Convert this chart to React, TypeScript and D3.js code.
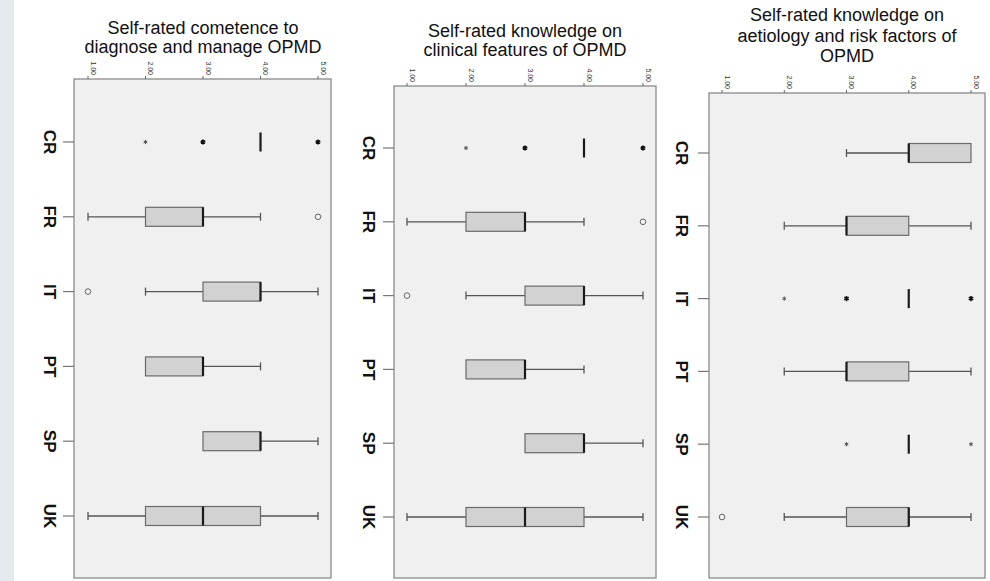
import React from 'react';
import * as d3 from 'd3';

// categories and axis ticks
const categories = ['CR', 'FR', 'IT', 'PT', 'SP', 'UK'];
const tickValues = [1, 2, 3, 4, 5];

const titleCompetence = ['Self-rated cometence to', 'diagnose and manage OPMD'];
const titleClinical = ['Self-rated knowledge on', 'clinical features of OPMD'];
const titleAetiology = ['Self-rated knowledge on', 'aetiology and risk factors of', 'OPMD'];

// panel 1: competence to diagnose and manage
const compWhiskerLow = [4, 1, 2, 2, 3, 1];
const compQ1 = [4, 2, 3, 2, 3, 2];
const compMedian = [4, 3, 4, 3, 4, 3];
const compQ3 = [4, 3, 4, 3, 4, 4];
const compWhiskerHigh = [4, 4, 5, 4, 5, 5];
const compOutliers = [[], [5], [1], [], [], []];
// extremes as [value, cases]
const compExtremes = [[[2, 1], [3, 2], [5, 2]], [], [], [], [], []];

// panel 2: knowledge on clinical features
const clinWhiskerLow = [4, 1, 2, 2, 3, 1];
const clinQ1 = [4, 2, 3, 2, 3, 2];
const clinMedian = [4, 3, 4, 3, 4, 3];
const clinQ3 = [4, 3, 4, 3, 4, 4];
const clinWhiskerHigh = [4, 4, 5, 4, 5, 5];
const clinOutliers = [[], [5], [1], [], [], []];
const clinExtremes = [[[2, 1], [3, 2], [5, 2]], [], [], [], [], []];

// panel 3: knowledge on aetiology and risk factors
const aetWhiskerLow = [3, 2, 4, 2, 4, 2];
const aetQ1 = [4, 3, 4, 3, 4, 3];
const aetMedian = [4, 3, 4, 3, 4, 4];
const aetQ3 = [5, 4, 4, 4, 4, 4];
const aetWhiskerHigh = [5, 5, 4, 5, 4, 5];
const aetOutliers = [[], [], [], [], [], [1]];
const aetExtremes = [[], [], [[2, 1], [3, 2], [5, 2]], [], [[3, 1], [5, 1]], []];

const panels = [
  {
    title: titleCompetence, low: compWhiskerLow, q1: compQ1, med: compMedian, q3: compQ3, high: compWhiskerHigh,
    outliers: compOutliers, extremes: compExtremes,
    x0: 74, x1: 331, y0: 79, y1: 578, v1: 88, v5: 318, c0: 142, c1: 516, labelX: 50, titleX: 203, titleY: 34, lh: 19,
  },
  {
    title: titleClinical, low: clinWhiskerLow, q1: clinQ1, med: clinMedian, q3: clinQ3, high: clinWhiskerHigh,
    outliers: clinOutliers, extremes: clinExtremes,
    x0: 394, x1: 656, y0: 86, y1: 578, v1: 407, v5: 643, c0: 148, c1: 517, labelX: 369, titleX: 525, titleY: 37, lh: 19,
  },
  {
    title: titleAetiology, low: aetWhiskerLow, q1: aetQ1, med: aetMedian, q3: aetQ3, high: aetWhiskerHigh,
    outliers: aetOutliers, extremes: aetExtremes,
    x0: 709, x1: 985, y0: 93, y1: 578, v1: 722, v5: 971, c0: 153, c1: 517, labelX: 682, titleX: 847, titleY: 21, lh: 20.5,
  },
];

const font = '"Liberation Sans", Arial, sans-serif';

const Panel = ({ p }: { p: any }) => {
  const x = d3.scaleLinear().domain([1, 5]).range([p.v1, p.v5]);
  const y = d3.scalePoint().domain(categories).range([p.c0, p.c1]);
  const boxH = 19;
  const capH = 8;
  const star = d3.symbol(d3.symbolAsterisk);

  return (
    <g>
      {/* title */}
      <text x={p.titleX} y={p.titleY} textAnchor="middle" fontFamily={font} fontSize={18} fill="#111">
        {p.title.map((t: string, i: number) => (
          <tspan key={i} x={p.titleX} dy={i === 0 ? 0 : p.lh}>{t}</tspan>
        ))}
      </text>

      {/* plot area */}
      <rect x={p.x0} y={p.y0} width={p.x1 - p.x0} height={p.y1 - p.y0} fill="#f0f0f0" stroke="#8a8a8a" strokeWidth={1.3} />

      {/* value axis on top */}
      {tickValues.map(v => (
        <g key={v}>
          <line x1={x(v)} x2={x(v)} y1={p.y0 - 3} y2={p.y0} stroke="#666" strokeWidth={1} />
          <text
            transform={`translate(${x(v) + 2.5},${p.y0 - 4}) rotate(90)`}
            textAnchor="end" fontFamily={font} fontSize={7} fill="#333"
          >{d3.format('.2f')(v)}</text>
        </g>
      ))}

      {/* category axis */}
      {categories.map((c, i) => {
        const cy = y(c)!;
        const lo = p.low[i], hi = p.high[i], q1 = p.q1[i], q3 = p.q3[i], md = p.med[i];
        return (
          <g key={c}>
            <line x1={p.x0 - 11} x2={p.x0} y1={cy} y2={cy} stroke="#777" strokeWidth={1.2} />
            <text
              transform={`translate(${p.labelX - 6},${cy}) rotate(90)`}
              textAnchor="middle" fontFamily={font} fontWeight="bold" fontSize={17} fill="#111"
            >{c}</text>

            {/* whiskers */}
            {lo < q1 && (
              <g stroke="#555" strokeWidth={1.3}>
                <line x1={x(lo)} x2={x(q1)} y1={cy} y2={cy} />
                <line x1={x(lo)} x2={x(lo)} y1={cy - capH / 2} y2={cy + capH / 2} />
              </g>
            )}
            {hi > q3 && (
              <g stroke="#555" strokeWidth={1.3}>
                <line x1={x(q3)} x2={x(hi)} y1={cy} y2={cy} />
                <line x1={x(hi)} x2={x(hi)} y1={cy - capH / 2} y2={cy + capH / 2} />
              </g>
            )}

            {/* box */}
            {q3 > q1 && (
              <rect x={x(q1)} y={cy - boxH / 2} width={x(q3) - x(q1)} height={boxH}
                fill="#d2d2d2" stroke="#6a6a6a" strokeWidth={1.2} />
            )}
            <line x1={x(md)} x2={x(md)} y1={cy - boxH / 2} y2={cy + boxH / 2} stroke="#1a1a1a" strokeWidth={2.2} />

            {/* outliers */}
            {p.outliers[i].map((v: number) => (
              <circle key={v} cx={x(v)} cy={cy} r={2.8} fill="none" stroke="#666" strokeWidth={1} />
            ))}
            {/* extremes */}
            {p.extremes[i].map(([v, n]: number[]) => (
              <path key={v} d={star.size(n > 1 ? 18 : 12)()!} transform={`translate(${x(v)},${cy})`}
                fill="none" stroke={n > 1 ? '#111' : '#555'} strokeWidth={n > 1 ? 1.6 : 1} />
            ))}
          </g>
        );
      })}
    </g>
  );
};

const App = () => (
  <svg width={990} height={581} style={{ position: 'absolute', left: 0, top: 0, background: '#fff' }}>
    <rect x={0} y={0} width={14} height={581} fill="#e5eaed" />
    {panels.map((p, i) => <Panel key={i} p={p} />)}
  </svg>
);

export default App;
